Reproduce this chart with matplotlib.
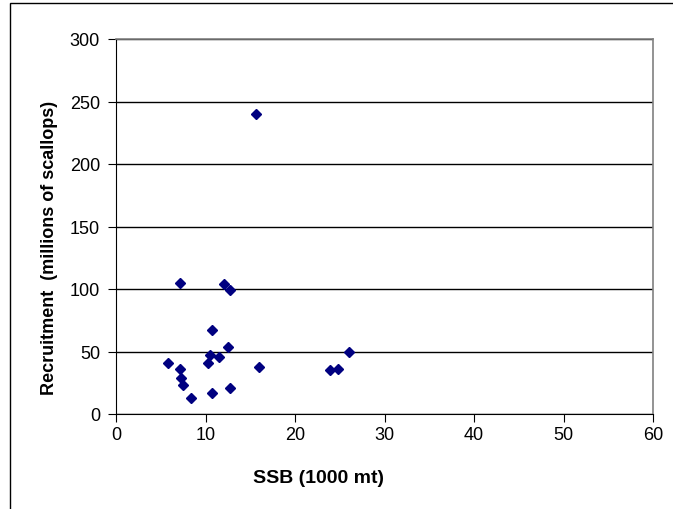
import matplotlib.pyplot as plt
from matplotlib.patches import Rectangle

# SSB (1000 mt) vs recruitment (millions of scallops)
ssb = [7.1, 12.1, 12.7, 10.7, 12.5, 10.5, 11.5, 5.8, 10.3, 7.1,
       16.0, 23.9, 24.8, 26.0, 7.3, 7.5, 8.4, 10.7, 12.7, 15.6]
recruits = [105, 104, 99, 67, 54, 47, 46, 41, 41, 36,
            38, 35, 36, 50, 29, 23, 13, 16.5, 21, 240]

xticks = [0, 10, 20, 30, 40, 50, 60]
yticks = [0, 50, 100, 150, 200, 250, 300]

plt.rcParams['font.family'] = ['Liberation Sans', 'DejaVu Sans']

fig = plt.figure(figsize=(6.73, 5.1), dpi=100)
ax = fig.add_axes([116/673, 1 - 415/510, (653 - 116)/673, (415 - 40)/510])

# outer chart border
fig.patches.append(Rectangle((10/673, -0.1), 1.2, 1.1 - 4/510, transform=fig.transFigure,
                             fill=False, edgecolor='black', linewidth=1))

ax.plot(ssb, recruits, 'D', color='#000080', ms=5.5, zorder=3)

ax.set_xlim(0, 60)
ax.set_ylim(0, 300)
ax.set_xticks(xticks)
ax.set_yticks(yticks)
ax.yaxis.grid(True, color='black', linewidth=1)
ax.set_axisbelow(True)

for s in ['top', 'right']:
    ax.spines[s].set_color('#808080')
    ax.spines[s].set_linewidth(1.2)
for s in ['left', 'bottom']:
    ax.spines[s].set_color('black')

ax.tick_params(direction='out', length=5.5, labelsize=13)
ax.tick_params(axis='y', pad=6)
ax.tick_params(axis='x', pad=3)
ax.set_xlabel('SSB (1000 mt)', fontsize=14, fontweight='bold')
ax.set_ylabel('Recruitment  (millions of scallops)', fontsize=13, fontweight='bold')
ax.xaxis.set_label_coords(0.378, -0.146)
ax.yaxis.set_label_coords(-0.108, 0.445)

fig.savefig('out.png', dpi=100)
